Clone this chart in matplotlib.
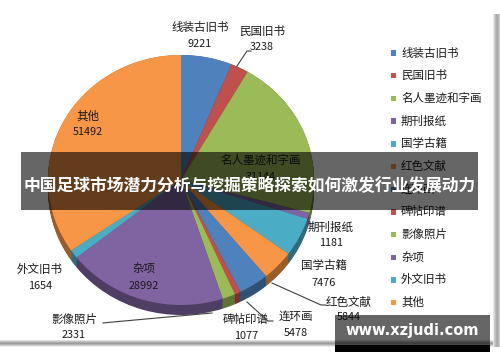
import matplotlib
matplotlib.use("Agg")
import matplotlib.pyplot as plt
from matplotlib.patches import Rectangle
import numpy as np

plt.rcParams['font.family'] = ['Noto Sans CJK SC', 'DejaVu Sans']

categories = ['线装古旧书', '民国旧书', '名人墨迹和字画', '期刊报纸', '国学古籍', '红色文献',
              '连环画', '碑帖印谱', '影像照片', '杂项', '外文旧书', '其他']
values = [9221, 3238, 31144, 1181, 7476, 5844, 5478, 1077, 2331, 28992, 1654, 51492]
title = '中国足球市场潜力分析与挖掘策略探索如何激发行业发展动力'
watermark = 'www.xzjudi.com'

base = ['#4F81BD', '#C0504D', '#9BBB59', '#8064A2', '#4BACC6', '#F79646']
colors = [base[i % 6] for i in range(len(values))]

def darker(c, f=0.6):
    r, g, b = matplotlib.colors.to_rgb(c)
    return (r * f, g * f, b * f)

W, H = 500, 362
fig = plt.figure(figsize=(W / 100, H / 100), dpi=100)
fig.patch.set_facecolor('white')

# pie axes (elliptical, pixel-calibrated)
cx, top, bot, a = 181, 55, 315, 133
depth = 0.08
axp = fig.add_axes([(cx - a) / W, (H - bot) / H, 2 * a / W, (bot - top) / H])
side_colors = [darker(c, 0.62) for c in colors]
nl = 12
for k in range(nl):
    off = -depth * (1 - k / (nl - 1))
    axp.pie(values, colors=side_colors, startangle=90, counterclock=False,
            center=(0, off), radius=1, wedgeprops=dict(linewidth=0))
wedges, _ = axp.pie(values, colors=colors, startangle=90, counterclock=False,
                    center=(0, 0), radius=1, wedgeprops=dict(linewidth=0))
axp.set_aspect('auto')
axp.set_xlim(-1, 1)
axp.set_ylim(-1 - depth, 1)
axp.axis('off')

# overlay axes in pixel coords
ax = fig.add_axes([0, 0, 1, 1], zorder=5)
ax.set_xlim(0, W)
ax.set_ylim(H, 0)
ax.axis('off')
ax.patch.set_alpha(0)

# data labels (name, value) positions
label_pos = [(200, 27, 44), (262, 31, 47), (261, 160, 177), (331, 227, 243),
             (324, 266, 283), (349, 302, 317), (296, 316, 333), (246, 320, 336),
             (74, 319, 335), (144, 268, 286), (40, 269, 286), (88, 116, 132)]
for name, val, (x, yn, yv) in zip(categories, values, label_pos):
    ax.text(x, yn, name, ha='center', va='center', fontsize=8.3, color='#1a1a1a', zorder=2)
    ax.text(x, yv, str(val), ha='center', va='center', fontsize=7.8, color='#1a1a1a', zorder=2)

# leader lines
leaders = [
    [(237, 66), (247, 51), (251, 51)],
    [(272, 283), (321, 305), (326, 305)],
    [(247, 302), (268, 321), (273, 321)],
    [(103, 323), (113, 322), (212, 313)],
]
for pts in leaders:
    xs, ys = zip(*pts)
    ax.plot(xs, ys, color='#404040', lw=0.8, zorder=2)

# legend
ly0, lstep = 53, 22.7
for i, (name, c) in enumerate(zip(categories, colors)):
    y = ly0 + i * lstep
    ax.add_patch(Rectangle((390.5, y - 2.7), 5.4, 5.4, facecolor=c, edgecolor='none', zorder=2))
    ax.text(401, y, name, ha='left', va='center', fontsize=8.3, color='#1a1a1a', zorder=2)

# frame shadows
bottom_grays = ['#e0e0e0', '#c4c4c4', '#a8a8a8', '#9c9c9c', '#b0b0b0', '#d0d0d0', '#ececec']
for i, g in enumerate(bottom_grays):
    ax.add_patch(Rectangle((0, 340 + i), 496, 1, facecolor=g, edgecolor='none', zorder=3))
right_grays = ['#e8e8e8', '#d0d0d0', '#bcbcbc', '#b0b0b0', '#a8a8a8', '#b8b8b8', '#d0d0d0']
for i, g in enumerate(right_grays):
    ax.add_patch(Rectangle((493 + i, 14), 1, 333, facecolor=g, edgecolor='none', zorder=3))

# title band
ax.add_patch(Rectangle((21, 152), 457, 58, facecolor='black', alpha=0.6, edgecolor='none', zorder=6))
ax.text(249.5, 185, title, ha='center', va='center', fontsize=12.1, fontweight='bold',
        color='white', zorder=7)

# watermark
ax.add_patch(Rectangle((335, 315), 155, 30, facecolor='black', alpha=0.6, edgecolor='none', zorder=6))
ax.add_patch(Rectangle((335, 345), 155, 7, facecolor='black', edgecolor='none', zorder=6))
ax.text(412, 330, watermark, ha='center', va='center', fontsize=10.5, fontweight='bold',
        color='white', family='DejaVu Sans', zorder=7)

fig.savefig('out.png', dpi=100)
